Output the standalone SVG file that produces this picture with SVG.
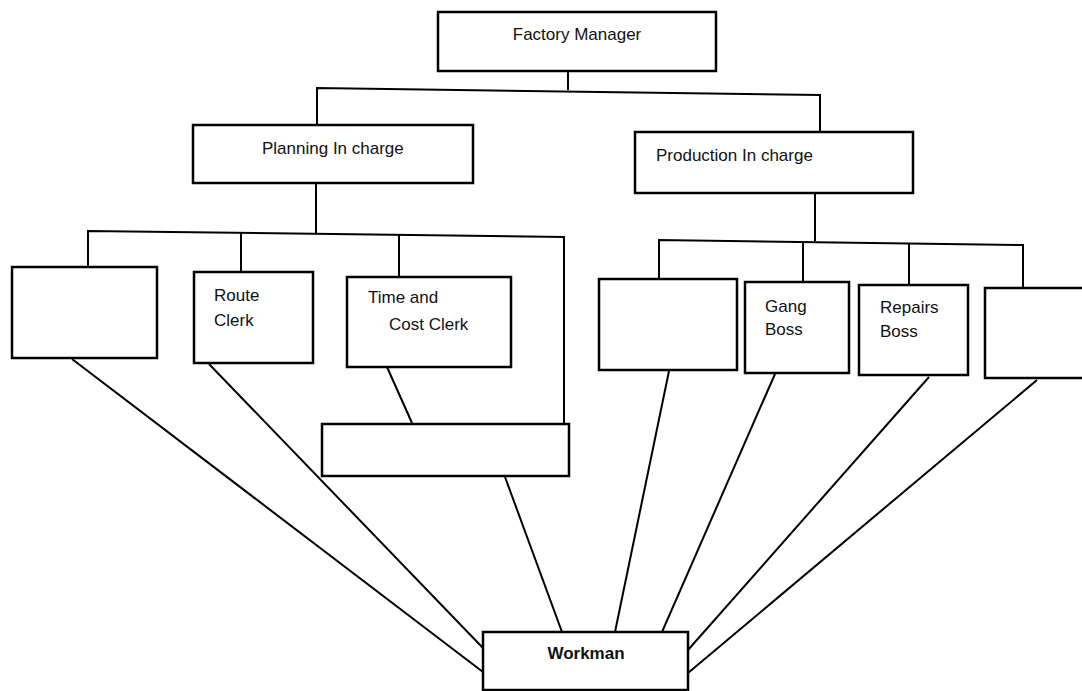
<svg xmlns="http://www.w3.org/2000/svg" width="1082" height="691" viewBox="0 0 1082 691">
<style>
.box{fill:#fff;stroke:#000;stroke-width:2.5}
.ln{fill:none;stroke:#000;stroke-width:2;stroke-linejoin:miter}
.t{font-family:"Liberation Sans",Arial,sans-serif;font-size:17px;fill:#111}
.b{font-weight:bold}
</style>
<rect width="1082" height="691" fill="#fff"/>
<g id="connectors">
<polyline class="ln" points="568,71 568,90"/>
<polyline class="ln" points="317,125 317,88 820,95 820,132"/>
<polyline class="ln" points="316,183 316,233"/>
<polyline class="ln" points="88,267 88,231 564,237 564,424"/>
<polyline class="ln" points="241,233 241,272"/>
<polyline class="ln" points="399,235 399,277"/>
<polyline class="ln" points="815,193 815,241"/>
<polyline class="ln" points="659,279 659,240 1023,245 1023,288"/>
<polyline class="ln" points="803,242 803,282"/>
<polyline class="ln" points="909,243 909,285"/>
<line class="ln" x1="72" y1="359" x2="483" y2="672"/>
<line class="ln" x1="209" y1="364" x2="483" y2="648"/>
<line class="ln" x1="387" y1="367" x2="412" y2="423"/>
<line class="ln" x1="505" y1="477" x2="562" y2="632"/>
<line class="ln" x1="669" y1="371" x2="615" y2="632"/>
<line class="ln" x1="775" y1="374" x2="662" y2="632"/>
<line class="ln" x1="929" y1="377" x2="688" y2="650"/>
<line class="ln" x1="1037" y1="380" x2="688" y2="673"/>
</g>
<g id="factory-manager">
<rect class="box" x="438" y="12" width="278" height="59"/>
<text class="t" x="577" y="40" text-anchor="middle">Factory Manager</text>
</g>
<g id="planning">
<rect class="box" x="193" y="125" width="280" height="58"/>
<text class="t" x="262" y="154">Planning In charge</text>
</g>
<g id="production">
<rect class="box" x="635" y="132" width="278" height="61"/>
<text class="t" x="656" y="161">Production In charge</text>
</g>
<g id="blank-a">
<rect class="box" x="12" y="267" width="145" height="91"/>
</g>
<g id="route-clerk">
<rect class="box" x="194" y="272" width="119" height="91"/>
<text class="t" x="214" y="301">Route</text>
<text class="t" x="214" y="326">Clerk</text>
</g>
<g id="time-cost-clerk">
<rect class="box" x="347" y="277" width="164" height="90"/>
<text class="t" x="368" y="303">Time and</text>
<text class="t" x="389" y="330">Cost Clerk</text>
</g>
<g id="blank-lower">
<rect class="box" x="322" y="424" width="247" height="52"/>
</g>
<g id="blank-d">
<rect class="box" x="599" y="279" width="138" height="91"/>
</g>
<g id="gang-boss">
<rect class="box" x="745" y="282" width="104" height="91"/>
<text class="t" x="765" y="312">Gang</text>
<text class="t" x="765" y="335">Boss</text>
</g>
<g id="repairs-boss">
<rect class="box" x="859" y="285" width="109" height="90"/>
<text class="t" x="880" y="313">Repairs</text>
<text class="t" x="880" y="337">Boss</text>
</g>
<g id="blank-g">
<rect class="box" x="985" y="288" width="110" height="90"/>
</g>
<g id="workman">
<rect class="box" x="483" y="632" width="205" height="58"/>
<text class="t b" x="586" y="659" text-anchor="middle">Workman</text>
</g>
</svg>
